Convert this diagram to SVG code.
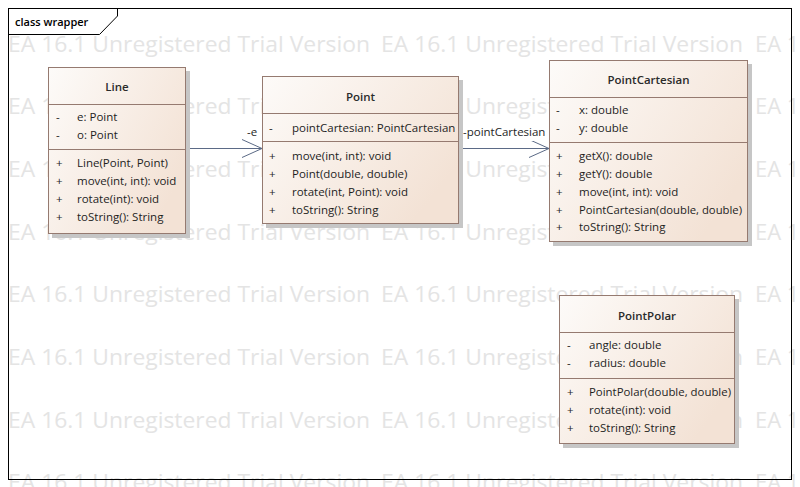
<svg xmlns="http://www.w3.org/2000/svg" width="800" height="487" viewBox="0 0 800 487">
<defs>
<linearGradient id="cls" x1="0" y1="0" x2="1" y2="0.6">
<stop offset="0" stop-color="#fdfbf9"/>
<stop offset="1" stop-color="#f3e2d5"/>
</linearGradient>
<marker id="open" viewBox="0 0 22 20" refX="21" refY="10" markerWidth="22" markerHeight="20" markerUnits="userSpaceOnUse" orient="auto">
<path d="M1,1 L21,10 L1,19" fill="none" stroke="#5b6a86" stroke-width="1"/>
</marker>
</defs>
<style>
.wm{font-family:"Open Sans","Noto Sans",sans-serif;font-size:22px;fill:#e4e4e4}
.box{fill:url(#cls);stroke:#957a70;stroke-width:1}
.shadow{fill:#c6c6c6}
.sep{stroke:#957a70;stroke-width:1}
.title{font-family:"Open Sans","Noto Sans",sans-serif;font-size:11.5px;font-weight:600;fill:#2a2a2a;text-anchor:middle}
.t{font-family:"Open Sans","Noto Sans",sans-serif;font-size:11.5px;fill:#1e1e1e}
.conn{stroke:#5b6a86;stroke-width:1;fill:none}
.lbl{font-family:"Open Sans","Noto Sans",sans-serif;font-size:11.5px;fill:#1e1e1e}
.frame{fill:none;stroke:#000;stroke-width:1}
</style>
<rect x="0" y="0" width="800" height="487" fill="#fff"/>
<g id="watermark">
<text class="wm" x="8" y="52" textLength="362" lengthAdjust="spacingAndGlyphs">EA 16.1 Unregistered Trial Version</text>
<text class="wm" x="381" y="52" textLength="362" lengthAdjust="spacingAndGlyphs">EA 16.1 Unregistered Trial Version</text>
<text class="wm" x="755" y="52">EA 16.1</text>
<text class="wm" x="8" y="114.3" textLength="362" lengthAdjust="spacingAndGlyphs">EA 16.1 Unregistered Trial Version</text>
<text class="wm" x="381" y="114.3" textLength="362" lengthAdjust="spacingAndGlyphs">EA 16.1 Unregistered Trial Version</text>
<text class="wm" x="755" y="114.3">EA 16.1</text>
<text class="wm" x="8" y="177" textLength="362" lengthAdjust="spacingAndGlyphs">EA 16.1 Unregistered Trial Version</text>
<text class="wm" x="381" y="177" textLength="362" lengthAdjust="spacingAndGlyphs">EA 16.1 Unregistered Trial Version</text>
<text class="wm" x="755" y="177">EA 16.1</text>
<text class="wm" x="8" y="239.6" textLength="362" lengthAdjust="spacingAndGlyphs">EA 16.1 Unregistered Trial Version</text>
<text class="wm" x="381" y="239.6" textLength="362" lengthAdjust="spacingAndGlyphs">EA 16.1 Unregistered Trial Version</text>
<text class="wm" x="755" y="239.6">EA 16.1</text>
<text class="wm" x="8" y="302.3" textLength="362" lengthAdjust="spacingAndGlyphs">EA 16.1 Unregistered Trial Version</text>
<text class="wm" x="381" y="302.3" textLength="362" lengthAdjust="spacingAndGlyphs">EA 16.1 Unregistered Trial Version</text>
<text class="wm" x="755" y="302.3">EA 16.1</text>
<text class="wm" x="8" y="364.9" textLength="362" lengthAdjust="spacingAndGlyphs">EA 16.1 Unregistered Trial Version</text>
<text class="wm" x="381" y="364.9" textLength="362" lengthAdjust="spacingAndGlyphs">EA 16.1 Unregistered Trial Version</text>
<text class="wm" x="755" y="364.9">EA 16.1</text>
<text class="wm" x="8" y="427.6" textLength="362" lengthAdjust="spacingAndGlyphs">EA 16.1 Unregistered Trial Version</text>
<text class="wm" x="381" y="427.6" textLength="362" lengthAdjust="spacingAndGlyphs">EA 16.1 Unregistered Trial Version</text>
<text class="wm" x="755" y="427.6">EA 16.1</text>
<text class="wm" x="8" y="490.2" textLength="362" lengthAdjust="spacingAndGlyphs">EA 16.1 Unregistered Trial Version</text>
<text class="wm" x="381" y="490.2" textLength="362" lengthAdjust="spacingAndGlyphs">EA 16.1 Unregistered Trial Version</text>
<text class="wm" x="755" y="490.2">EA 16.1</text>
</g>
<g id="frame">
<rect class="frame" x="8.5" y="8.5" width="783" height="471"/>
<path class="frame" d="M8.5,34.5 H99.5 L117.5,16 V8.5"/>
<text x="15" y="26" style="font-family:'Open Sans','Noto Sans',sans-serif;font-size:11px;font-weight:600;fill:#000">class wrapper</text>
</g>
<g id="connectors">
<path class="conn" d="M186,148.5 H262" marker-end="url(#open)"/>
<path class="conn" d="M459,148.5 H549" marker-end="url(#open)"/>
<text class="lbl" x="247" y="136">-e</text>
<rect x="462" y="123" width="86" height="18" fill="#fff"/>
<text class="lbl" x="463" y="136">-pointCartesian</text>
</g>
<g id="Line">
<rect class="shadow" x="52" y="71" width="138" height="167"/>
<rect class="box" x="48.5" y="67.5" width="137" height="166"/>
<line class="sep" x1="48.5" y1="104.5" x2="185.5" y2="104.5"/>
<line class="sep" x1="48.5" y1="149.5" x2="185.5" y2="149.5"/>
<text class="title" x="117" y="91">Line</text>
<text class="t" x="56" y="121">-</text><text class="t" x="77" y="121">e: Point</text>
<text class="t" x="56" y="139">-</text><text class="t" x="77" y="139">o: Point</text>
<text class="t" x="56" y="167">+</text><text class="t" x="77" y="167">Line(Point, Point)</text>
<text class="t" x="56" y="185">+</text><text class="t" x="77" y="185">move(int, int): void</text>
<text class="t" x="56" y="203">+</text><text class="t" x="77" y="203">rotate(int): void</text>
<text class="t" x="56" y="221">+</text><text class="t" x="77" y="221">toString(): String</text>
</g>
<g id="Point">
<rect class="shadow" x="266" y="80" width="197" height="148"/>
<rect class="box" x="262.5" y="76.5" width="196" height="147"/>
<line class="sep" x1="262.5" y1="113.5" x2="458.5" y2="113.5"/>
<line class="sep" x1="262.5" y1="141.5" x2="458.5" y2="141.5"/>
<text class="title" x="360.5" y="101">Point</text>
<text class="t" x="269" y="132">-</text><text class="t" x="292" y="132">pointCartesian: PointCartesian</text>
<text class="t" x="269" y="160">+</text><text class="t" x="292" y="160">move(int, int): void</text>
<text class="t" x="269" y="177.5">+</text><text class="t" x="292" y="177.5">Point(double, double)</text>
<text class="t" x="269" y="195.5">+</text><text class="t" x="292" y="195.5">rotate(int, Point): void</text>
<text class="t" x="269" y="213.5">+</text><text class="t" x="292" y="213.5">toString(): String</text>
</g>
<g id="PointCartesian">
<rect class="shadow" x="553" y="64" width="199" height="182"/>
<rect class="box" x="549.5" y="60.5" width="198" height="181"/>
<line class="sep" x1="549.5" y1="97.5" x2="747.5" y2="97.5"/>
<line class="sep" x1="549.5" y1="142.5" x2="747.5" y2="142.5"/>
<text class="title" x="648.5" y="84">PointCartesian</text>
<text class="t" x="556" y="113.5">-</text><text class="t" x="579" y="113.5">x: double</text>
<text class="t" x="556" y="131.5">-</text><text class="t" x="579" y="131.5">y: double</text>
<text class="t" x="556" y="159.5">+</text><text class="t" x="579" y="159.5">getX(): double</text>
<text class="t" x="556" y="177.5">+</text><text class="t" x="579" y="177.5">getY(): double</text>
<text class="t" x="556" y="195.5">+</text><text class="t" x="579" y="195.5">move(int, int): void</text>
<text class="t" x="556" y="213.5">+</text><text class="t" x="579" y="213.5" textLength="163" lengthAdjust="spacingAndGlyphs">PointCartesian(double, double)</text>
<text class="t" x="556" y="231">+</text><text class="t" x="579" y="231">toString(): String</text>
</g>
<g id="PointPolar">
<rect class="shadow" x="563" y="299" width="176" height="149"/>
<rect class="box" x="559.5" y="295.5" width="175" height="148"/>
<line class="sep" x1="559.5" y1="332.5" x2="734.5" y2="332.5"/>
<line class="sep" x1="559.5" y1="378.5" x2="734.5" y2="378.5"/>
<text class="title" x="647" y="320">PointPolar</text>
<text class="t" x="567" y="348.5">-</text><text class="t" x="589" y="348.5">angle: double</text>
<text class="t" x="567" y="366.5">-</text><text class="t" x="589" y="366.5">radius: double</text>
<text class="t" x="567" y="396">+</text><text class="t" x="589" y="396" textLength="142" lengthAdjust="spacingAndGlyphs">PointPolar(double, double)</text>
<text class="t" x="567" y="413.5">+</text><text class="t" x="589" y="413.5">rotate(int): void</text>
<text class="t" x="567" y="431.5">+</text><text class="t" x="589" y="431.5">toString(): String</text>
</g>
</svg>
